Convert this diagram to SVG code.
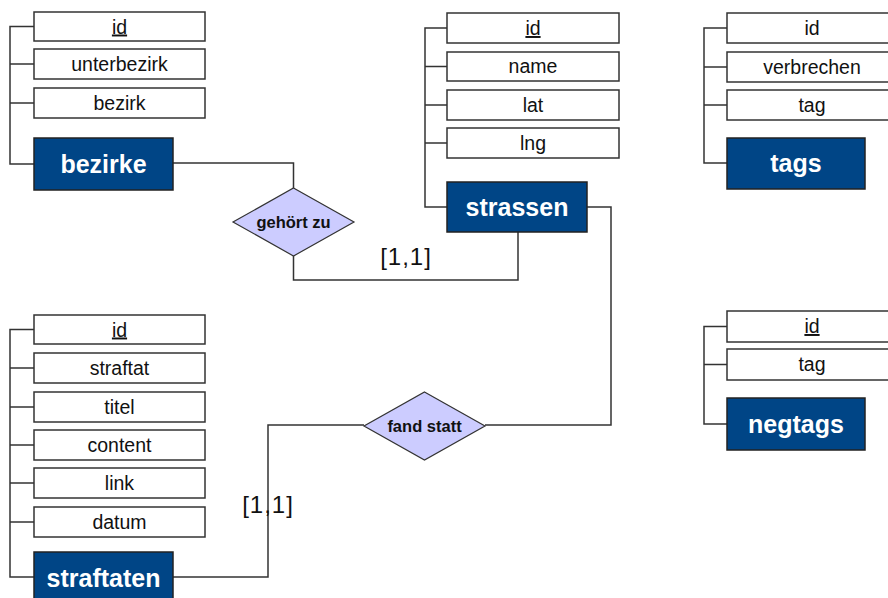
<svg xmlns="http://www.w3.org/2000/svg" width="888" height="598" viewBox="0 0 888 598">
<style>
.attr{fill:#fff;stroke:#333;stroke-width:1.5}
.ent{fill:#004586;stroke:#222;stroke-width:1.5}
.rel{fill:#ccccff;stroke:#333;stroke-width:1.2}
.at{font-family:"Liberation Sans",Arial,sans-serif;font-size:19.5px;fill:#111;text-anchor:middle}
.et{font-family:"Liberation Sans",Arial,sans-serif;font-size:25px;font-weight:bold;fill:#fff;text-anchor:middle}
.rt{font-family:"Liberation Sans",Arial,sans-serif;font-size:16.5px;font-weight:bold;fill:#111;text-anchor:middle}
.ct{font-family:"Liberation Sans",Arial,sans-serif;font-size:24px;fill:#111;text-anchor:middle;letter-spacing:1px}
.c{fill:none;stroke:#333;stroke-width:1.5}
</style>
<rect width="888" height="598" fill="#fff"/>
<g id="connectors">
<path class="c" d="M34,26.5H10V164H34M10,64H34M10,103H34"/>
<path class="c" d="M447,28H425V207H447M425,66.5H447M425,105H447M425,143H447"/>
<path class="c" d="M727,28H704V163H727M704,67H727M704,105H727"/>
<path class="c" d="M727,326.5H704V424H727M704,364.5H727"/>
<path class="c" d="M34,329.5H10V577H34M10,368H34M10,407H34M10,445H34M10,483H34M10,522H34"/>
<path class="c" d="M173,163H293.5V188"/>
<path class="c" d="M293.5,256V280H518V232"/>
<path class="c" d="M587,207H611V425H485"/>
<path class="c" d="M364,425H268V577H173"/>
<text class="ct" x="406" y="265">[1,1]</text>
<text class="ct" x="268" y="513">[1,1]</text>
</g>
<g id="bezirke">
<g id="bezirke-id"><rect class="attr" x="34" y="12" width="171" height="29"/><text class="at" x="119.5" y="33.5" text-decoration="underline">id</text></g>
<g id="bezirke-unterbezirk"><rect class="attr" x="34" y="49" width="171" height="30"/><text class="at" x="119.5" y="71">unterbezirk</text></g>
<g id="bezirke-bezirk"><rect class="attr" x="34" y="88" width="171" height="30"/><text class="at" x="119.5" y="110">bezirk</text></g>
<rect class="ent" x="34" y="138" width="139" height="52"/><text class="et" x="103.5" y="173">bezirke</text>
</g>
<g id="strassen">
<g id="strassen-id"><rect class="attr" x="447" y="13" width="172" height="30"/><text class="at" x="533" y="35" text-decoration="underline">id</text></g>
<g id="strassen-name"><rect class="attr" x="447" y="52" width="172" height="29"/><text class="at" x="533" y="73">name</text></g>
<g id="strassen-lat"><rect class="attr" x="447" y="90" width="172" height="30"/><text class="at" x="533" y="112">lat</text></g>
<g id="strassen-lng"><rect class="attr" x="447" y="128" width="172" height="30"/><text class="at" x="533" y="150">lng</text></g>
<rect class="ent" x="447" y="182" width="140" height="50"/><text class="et" x="517" y="216">strassen</text>
</g>
<g id="tags">
<g id="tags-id"><rect class="attr" x="727" y="13" width="171" height="30"/><text class="at" x="812" y="35">id</text></g>
<g id="tags-verbrechen"><rect class="attr" x="727" y="52" width="171" height="30"/><text class="at" x="812" y="74">verbrechen</text></g>
<g id="tags-tag"><rect class="attr" x="727" y="90" width="171" height="30"/><text class="at" x="812" y="112">tag</text></g>
<rect class="ent" x="727" y="138" width="138" height="51"/><text class="et" x="796" y="172">tags</text>
</g>
<g id="negtags">
<g id="negtags-id"><rect class="attr" x="727" y="311" width="171" height="31"/><text class="at" x="812" y="333" text-decoration="underline">id</text></g>
<g id="negtags-tag"><rect class="attr" x="727" y="349" width="171" height="31"/><text class="at" x="812" y="371">tag</text></g>
<rect class="ent" x="727" y="398" width="138" height="52"/><text class="et" x="796" y="433">negtags</text>
</g>
<g id="straftaten">
<g id="straftaten-id"><rect class="attr" x="34" y="315" width="171" height="29"/><text class="at" x="119.5" y="336.5" text-decoration="underline">id</text></g>
<g id="straftaten-straftat"><rect class="attr" x="34" y="353" width="171" height="30"/><text class="at" x="119.5" y="375">straftat</text></g>
<g id="straftaten-titel"><rect class="attr" x="34" y="392" width="171" height="30"/><text class="at" x="119.5" y="414">titel</text></g>
<g id="straftaten-content"><rect class="attr" x="34" y="430" width="171" height="30"/><text class="at" x="119.5" y="452">content</text></g>
<g id="straftaten-link"><rect class="attr" x="34" y="468" width="171" height="30"/><text class="at" x="119.5" y="490">link</text></g>
<g id="straftaten-datum"><rect class="attr" x="34" y="507" width="171" height="30"/><text class="at" x="119.5" y="529">datum</text></g>
<rect class="ent" x="34" y="552" width="139" height="52"/><text class="et" x="103.5" y="587">straftaten</text>
</g>
<g id="gehoert-zu">
<polygon class="rel" points="293.5,188 354,222 293.5,256 233,222"/><text class="rt" x="293.5" y="228">gehört zu</text>
</g>
<g id="fand-statt">
<polygon class="rel" points="424.5,392 485,426 424.5,460 364,426"/><text class="rt" x="424.5" y="432">fand statt</text>
</g>
</svg>
